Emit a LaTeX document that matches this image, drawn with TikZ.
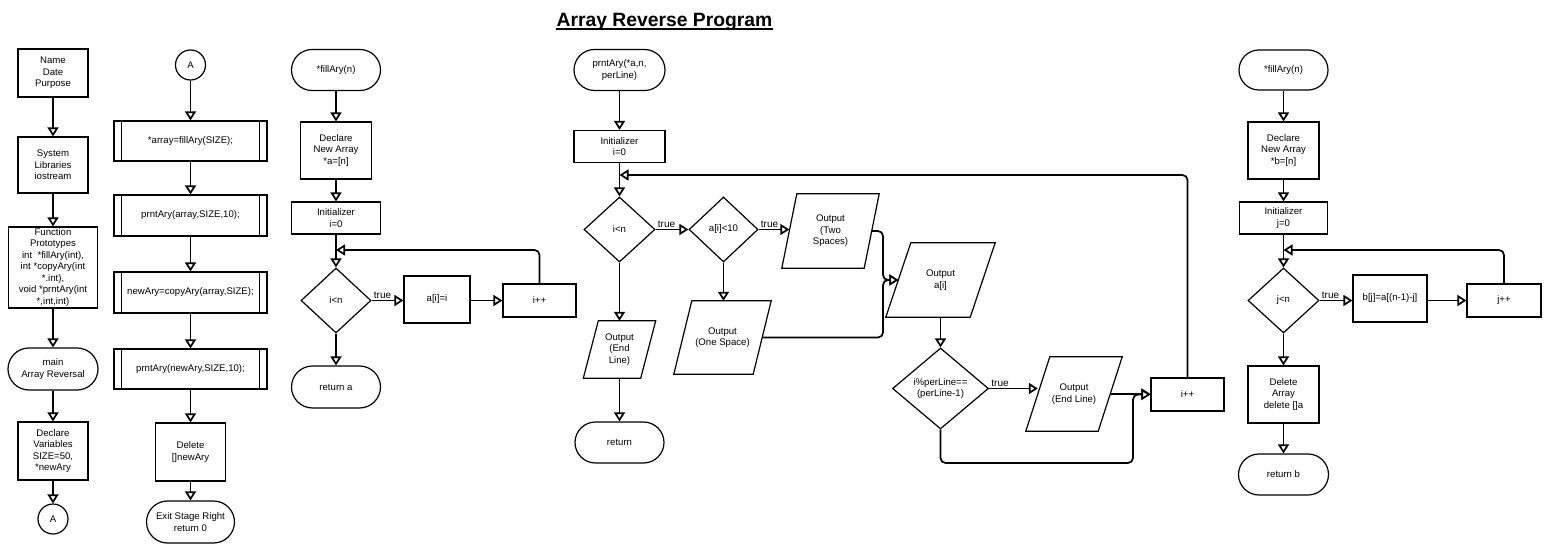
\documentclass[tikz,border=0pt]{standalone}
\usepackage{fontspec}
\setmainfont{Liberation Sans}
\usetikzlibrary{shapes.geometric,arrows.meta,calc}
\newcommand\ioshape[2]{\draw[shapeline] ([xshift=#2]#1.north west) -- (#1.north east) -- ([xshift=-#2]#1.south east) -- (#1.south west) -- cycle;}
\newcommand\predefl[1]{\draw[shapeline] ([xshift=8]#1.north west) -- ([xshift=8]#1.south west) ([xshift=-8]#1.north east) -- ([xshift=-8]#1.south east);}
\begin{document}
\begin{tikzpicture}[x=1pt,y=-1pt,
  font=\fontsize{9.6}{11.5}\selectfont,
  shapeline/.style={line width=1.2pt, line join=miter},
  proc/.style={draw, shapeline, align=center, inner sep=0pt},
  term/.style={proc, rounded corners=20.5pt},
  dec/.style={draw, shapeline, diamond, align=center, inner sep=0pt},
  io/.style={align=center, inner sep=0pt},
  conn/.style={line width=1.7pt, -{Triangle[length=9pt,width=11pt,fill=white]}, rounded corners=5pt},
  circ/.style={draw, shapeline, circle, minimum size=30pt, inner sep=0pt},
  lbl/.style={anchor=south west, inner sep=1.5pt, font=\fontsize{10}{12}\selectfont}
]
\useasboundingbox (0,0) rectangle (1556,559);

% Title
\node[font=\fontsize{19.3}{22}\selectfont\bfseries, anchor=base, inner sep=0pt] (title) at (664.5,26.5) {Array Reverse Program};
\draw[line width=1.5pt] ([yshift=-2.5pt]title.base west) -- ([yshift=-2.5pt]title.base east);

% Column 1
\node[proc, minimum width=70, minimum height=48] (c1a) at (53,73) {Name\\Date\\Purpose};
\node[proc, minimum width=70, minimum height=56] (c1b) at (53,165) {System\\Libraries\\iostream};
\node[proc, minimum width=89, minimum height=81] (c1c) at (53,267.5) {Function\\Prototypes\\int\ \ *fillAry(int),\\int *copyAry(int\\*.int),\\void *prntAry(int\\*,int,int)};
\node[term, minimum width=90, minimum height=42, rounded corners=21pt] (c1d) at (53,369) {main\\Array Reversal};
\node[proc, minimum width=70, minimum height=58] (c1e) at (53,451) {Declare\\Variables\\SIZE=50,\\*newAry};
\node[circ] (c1f) at (53,519) {A};
\draw[conn] (c1a.south) -- (c1b.north);
\draw[conn] (c1b.south) -- (c1c.north);
\draw[conn] (c1c.south) -- (c1d.north);
\draw[conn] (c1d.south) -- (c1e.north);
\draw[conn] (c1e.south) -- (c1f.north);

% Column 2
\node[circ] (c2a) at (190.5,65) {A};
\node[proc, minimum width=153, minimum height=40] (c2b) at (190.5,141) {*array=fillAry(SIZE);};
\node[proc, minimum width=153, minimum height=41] (c2c) at (190.5,215.5) {prntAry(array,SIZE,10);};
\node[proc, minimum width=153, minimum height=41] (c2d) at (190.5,292.5) {newAry=copyAry(array,SIZE);};
\node[proc, minimum width=153, minimum height=40] (c2e) at (190.5,369) {prntAry(newAry,SIZE,10);};
\predefl{c2b}\predefl{c2c}\predefl{c2d}\predefl{c2e}
\node[proc, minimum width=70, minimum height=58] (c2f) at (190.5,452) {Delete\\{[]}newAry};
\node[term, minimum width=88, minimum height=42, rounded corners=21pt] (c2g) at (190.5,522) {Exit Stage Right\\return 0};
\draw[conn] (c2a.south) -- (c2b.north);
\draw[conn] (c2b.south) -- (c2c.north);
\draw[conn] (c2c.south) -- (c2d.north);
\draw[conn] (c2d.south) -- (c2e.north);
\draw[conn] (c2e.south) -- (c2f.north);
\draw[conn] (c2f.south) -- (c2g.north);

% Column 3: fillAry
\node[term, minimum width=89, minimum height=41] (c3a) at (336,70) {*fillAry(n)};
\node[proc, minimum width=71, minimum height=57] (c3b) at (336,150.5) {Declare\\New Array\\*a=[n]};
\node[proc, minimum width=89, minimum height=32] (c3c) at (336,218) {Initializer\\i=0};
\node[dec, minimum width=70, minimum height=65] (c3d) at (336,300.5) {i\textless n};
\node[proc, minimum width=66, minimum height=47] (c3e) at (437,299.5) {a[i]=i};
\node[proc, minimum width=73, minimum height=33] (c3f) at (539.5,300.5) {i++};
\node[term, minimum width=89, minimum height=42, rounded corners=21pt] (c3g) at (336,387) {return a};
\coordinate (c3j) at (336,250);
\draw[conn] (c3a.south) -- (c3b.north);
\draw[conn] (c3b.south) -- (c3c.north);
\draw[conn] (c3c.south) -- (c3d.north);
\draw[conn] (c3d.east) -- node[lbl, pos=0]{true} (c3d.east -| c3e.west);
\draw[conn] (c3e.east |- c3f.west) -- (c3f.west);
\draw[conn] (c3f.north) |- (c3j);
\draw[conn] (c3d.south) -- (c3g.north);

% Middle: prntAry
\node[term, minimum width=91, minimum height=41] (m1) at (619.5,70) {prntAry(*a,n,\\perLine)};
\node[proc, minimum width=91, minimum height=32] (m2) at (619.5,146.5) {Initializer\\i=0};
\node[dec, minimum width=71, minimum height=65] (m3) at (619.5,229.5) {i\textless n};
\node[dec, minimum width=69, minimum height=65] (m4) at (723.5,229.5) {a[i]\textless 10};
\node[io, minimum width=97, minimum height=74] (m5) at (830.5,231) {Output\\(Two\\Spaces)};
\ioshape{m5}{15}
\node[io, minimum width=97, minimum height=73] (m6) at (722.5,337.5) {Output\\(One Space)};
\ioshape{m6}{18}
\node[io, minimum width=72, minimum height=57] (m7) at (619.5,349.5) {Output\\(End\\Line)};
\ioshape{m7}{15}
\node[term, minimum width=89, minimum height=41] (m8) at (619.5,442.5) {return};
\node[io, minimum width=109, minimum height=74] (m9) at (940.5,280) {Output\\a[i]};
\ioshape{m9}{25}
\node[dec, minimum width=96, minimum height=81] (m10) at (940.5,388.5) {i\%perLine==\\(perLine-1)};
\node[io, minimum width=96, minimum height=74] (m11) at (1074,394) {Output\\(End Line)};
\ioshape{m11}{24}
\node[proc, minimum width=73, minimum height=33] (m12) at (1187.5,394.5) {i++};

\coordinate (mj) at (619.5,175);
\coordinate (mk) at (883,280);
\coordinate (mc) at (1133,463);
\coordinate (m5e) at ($(m5.east)+(-7.5,0)$);
\coordinate (m6e) at ($(m6.east)+(-9,0)$);
\coordinate (m9w) at ($(m9.west)+(12.5,0)$);
\coordinate (m11w) at ($(m11.west)+(12,0)$);
\coordinate (m11e) at ($(m11.east)+(-12,0)$);
\coordinate (m5w) at ($(m5.west)+(7.5,0)$);

\draw[conn] (m1.south) -- (m2.north);
\draw[conn] (m2.south) -- (m3.north);
\draw[conn] (m3.east) -- node[lbl, pos=0]{true} (m4.west);
\draw[conn] (m4.east) -- node[lbl, pos=0]{true} (m4.east -| m5w);
\draw[conn] (m3.south) -- (m7.north);
\draw[conn] (m7.south) -- (m8.north);
\draw[conn] (m4.south) -- (m4.south |- m6.north);
\draw[conn] (m5e) -| (mk) -- (m9w);
\draw[conn] (m6e) -| (mk) -- (m9w);
\draw[conn] (m9.south) -- (m10.north);
\draw[conn] (m10.east) -- node[lbl, pos=0]{true} (m10.east -| m11w);
\draw[conn] (m11e) -- (m11e -| m12.west);
\draw[conn] (m10.south) |- (mc) |- (m12.west);
\draw[conn] (m12.north) |- (mj);

% Right column: copyAry
\node[term, minimum width=89, minimum height=40, rounded corners=20pt] (r1) at (1283.5,70) {*fillAry(n)};
\node[proc, minimum width=71, minimum height=57] (r2) at (1283.5,150.5) {Declare\\New Array\\*b=[n]};
\node[proc, minimum width=88, minimum height=32] (r3) at (1283.5,218) {Initializer\\j=0};
\node[dec, minimum width=71, minimum height=65] (r4) at (1283.5,300.5) {j\textless n};
\node[proc, minimum width=74, minimum height=47] (r5) at (1390,298.5) {b[j]=a[(n-1)-j]};
\node[proc, minimum width=74, minimum height=33] (r6) at (1504,300.5) {j++};
\node[proc, minimum width=71, minimum height=57] (r7) at (1283.5,394.5) {Delete\\Array\\delete []a};
\node[term, minimum width=90, minimum height=41] (r8) at (1283.5,474.5) {return b};
\coordinate (rj) at (1283.5,250);
\draw[conn] (r1.south) -- (r2.north);
\draw[conn] (r2.south) -- (r3.north);
\draw[conn] (r3.south) -- (r4.north);
\draw[conn] (r4.east) -- node[lbl, pos=0]{true} (r4.east -| r5.west);
\draw[conn] (r5.east |- r6.west) -- (r6.west);
\draw[conn] (r6.north) |- (rj);
\draw[conn] (r4.south) -- (r7.north);
\draw[conn] (r7.south) -- (r8.north);
\end{tikzpicture}
\end{document}
